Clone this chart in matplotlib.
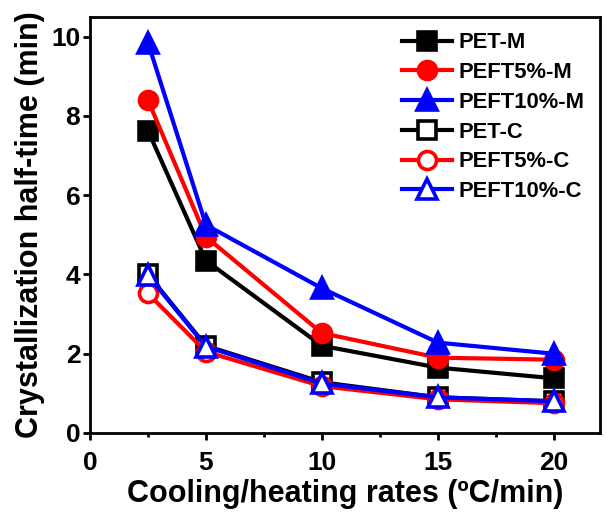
import matplotlib
matplotlib.use("Agg")
import matplotlib.pyplot as plt
from matplotlib.ticker import MultipleLocator

plt.rcParams["font.family"] = ["Liberation Sans", "DejaVu Sans"]
plt.rcParams["font.weight"] = "bold"

rates = [2.5, 5, 10, 15, 20]
pet_m = [7.63, 4.35, 2.2, 1.65, 1.38]
peft5_m = [8.4, 4.95, 2.52, 1.9, 1.85]
peft10_m = [9.85, 5.25, 3.65, 2.28, 2.0]
pet_c = [4.0, 2.2, 1.28, 0.9, 0.8]
peft5_c = [3.52, 2.05, 1.18, 0.85, 0.75]
peft10_c = [3.98, 2.18, 1.25, 0.9, 0.8]

labels = ["PET-M", "PEFT5%-M", "PEFT10%-M", "PET-C", "PEFT5%-C", "PEFT10%-C"]
series = [pet_m, peft5_m, peft10_m, pet_c, peft5_c, peft10_c]
colors = ["black", "red", "blue", "black", "red", "blue"]
markers = ["s", "o", "^", "s", "o", "^"]
filled = [True, True, True, False, False, False]
sizes = {"s": 12.5, "o": 13, "^": 14}

fig = plt.figure(figsize=(6.06, 5.13), dpi=100)
ax = fig.add_axes([0.1485, 0.156, 0.842, 0.811])

for y, lab, c, m, f in zip(series, labels, colors, markers, filled):
    ax.plot(rates, y, color=c, lw=3, marker=m, ms=sizes[m],
            markerfacecolor=c if f else "white", markeredgecolor=c,
            markeredgewidth=2.6, label=lab)

ax.set_xlim(0, 22)
ax.set_ylim(0, 10.5)
ax.xaxis.set_major_locator(MultipleLocator(5))
ax.xaxis.set_minor_locator(MultipleLocator(2.5))
ax.yaxis.set_major_locator(MultipleLocator(2))
for s in ax.spines.values():
    s.set_linewidth(2)
ax.tick_params(which="major", direction="out", length=5, width=2, labelsize=19)
ax.tick_params(which="minor", direction="out", length=3, width=2)
ax.tick_params(axis="x", which="major", pad=8)
ax.tick_params(axis="y", which="major", pad=2)
for t in ax.get_xticklabels() + ax.get_yticklabels():
    t.set_fontweight("bold")

ax.set_xlabel("Cooling/heating rates (ºC/min)", fontsize=22, fontweight="bold", labelpad=3)
ax.set_ylabel("Crystallization half-time (min)", fontsize=22, fontweight="bold", labelpad=4)

leg = ax.legend(loc="upper right", frameon=False, fontsize=15.8, handlelength=2.3,
                labelspacing=0.4, borderaxespad=0.3, handletextpad=0.3)
for t in leg.get_texts():
    t.set_fontweight("bold")

fig.savefig("out.png", dpi=100)
